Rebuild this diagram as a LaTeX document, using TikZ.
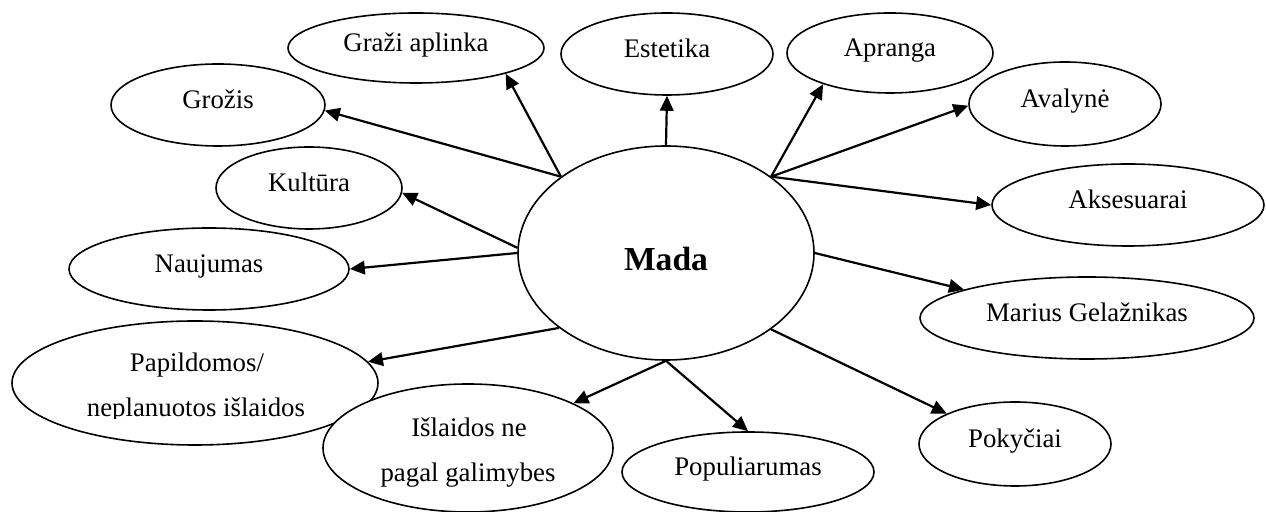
\documentclass[tikz,border=0pt]{standalone}
\usepackage{fontspec}
\setmainfont{Liberation Serif}
\usetikzlibrary{arrows.meta,shapes.geometric}

\begin{document}
\begin{tikzpicture}[x=0.5pt,y=-0.5pt,
  txt/.style={font=\fontsize{13.4}{15}\selectfont},
  bubble/.style={draw, ellipse, fill=white, line width=0.8pt, inner sep=0pt,
    txt, text height=9pt, text depth=5.4pt},
  ewh/.style 2 args={minimum width=#1pt, minimum height=#2pt},
  linetext/.style={anchor=base, inner sep=0pt, txt},
  link/.style={line width=1.1pt, -{Triangle[length=7.5pt,width=6.8pt]}},
]
\useasboundingbox (0,0) rectangle (1266,512);

% central topic
\node[bubble, ewh={148}{107}, font=\bfseries\fontsize{16.8}{18}\selectfont,
      text height=17.6pt, text depth=0pt] (mada) at (666,253) {Mada};

% upper row
\node[bubble, ewh={107}{41}] (grozis)     at (218,105)  {Grožis};
\node[bubble, ewh={128}{35}] (grazi)      at (416,48)   {Graži aplinka};
\node[bubble, ewh={106}{41}] (estetika)   at (667,54)   {Estetika};
\node[bubble, ewh={103}{40}] (apranga)    at (890,53)   {Apranga};
\node[bubble, ewh={96}{42}]  (avalyne)    at (1065,104) {Avalynė};
\node[bubble, ewh={136}{41}] (aksesuarai) at (1128,205) {Aksesuarai};

% left side
\node[bubble, ewh={93}{41}]  (kultura)    at (309,188)  {Kultūra};
\node[bubble, ewh={140}{41}] (naujumas)   at (209,269)  {Naujumas};

% two-line bubble, its lower line trimmed at the baseline
\node[bubble, ewh={183}{62}] (papild) at (195,383) {};
\begin{scope}
  \clip (0,0) rectangle (1266,419);
  \node[linetext] (papildA) at (197,372) {Papildomos/};
  \node[linetext] (papildB) at (196,417) {neplanuotos išlaidos};
\end{scope}

\node[bubble, ewh={145}{64}] (islaidos) at (468,448) {};
\node[linetext] (islaidosA) at (469,437) {Išlaidos ne};
\node[linetext] (islaidosB) at (468,482) {pagal galimybes};

% lower right
\node[bubble, ewh={126}{40}] (popul)    at (748,472)  {Populiarumas};
\node[bubble, ewh={96}{42}]  (pokyciai) at (1015,444) {Pokyčiai};
\node[bubble, ewh={167}{41}] (marius)   at (1087,318) {Marius Gelažnikas};

% connectors
\draw[link] (mada.144) -- (grozis.-3);
\draw[link] (mada.144) -- (grazi.-16);
\draw[link] (mada.90)  -- (estetika.-90);
\draw[link] (mada.36)  -- (apranga.205);
\draw[link] (mada.36)  -- (avalyne.181);
\draw[link] (mada.36)  -- (aksesuarai.180);
\draw[link] (mada.178) -- (kultura.-3);
\draw[link] (mada.180) -- (naujumas.0);
\draw[link] (mada.215) -- (papild.7);
\draw[link] (mada.270) -- (islaidos.23);
\draw[link] (mada.270) -- (popul.90);
\draw[link] (mada.324) -- (pokyciai.156);
\draw[link] (mada.0)   -- (marius.167);
\end{tikzpicture}
\end{document}
